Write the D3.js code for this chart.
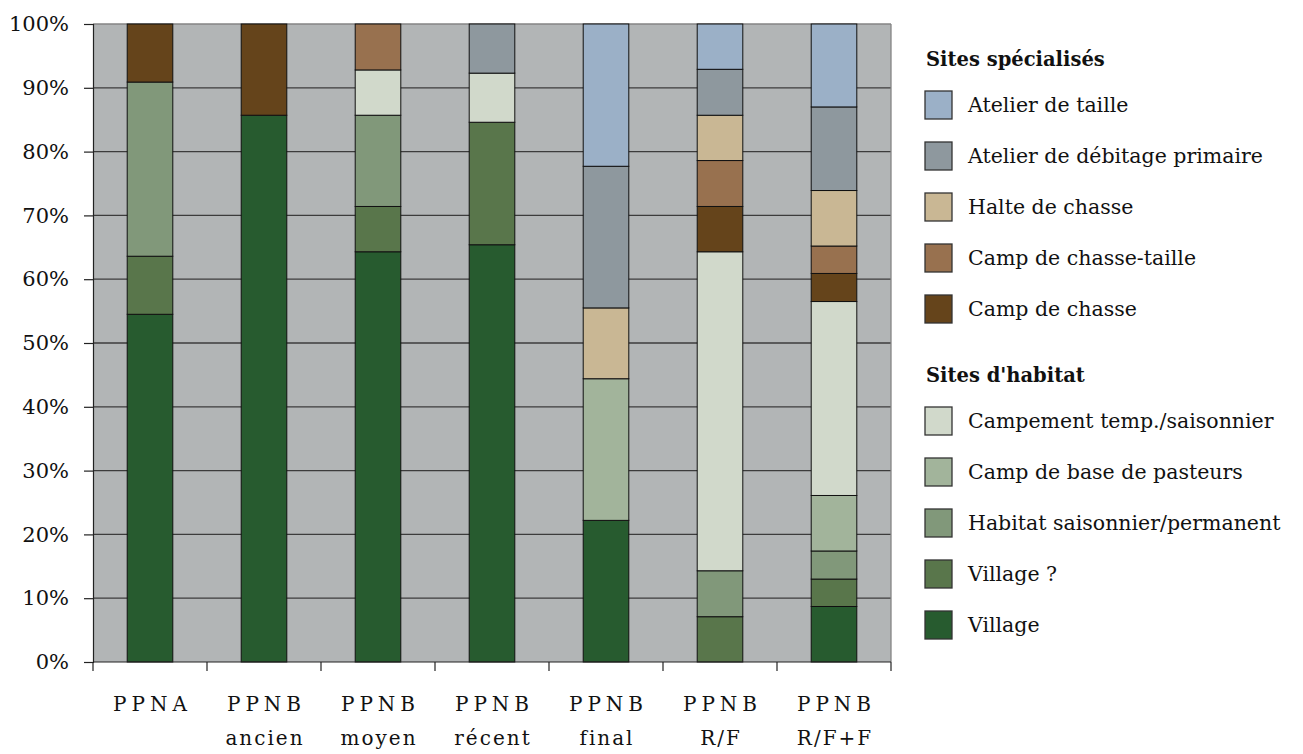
<!DOCTYPE html>
<html>
<head>
<meta charset="utf-8">
<script src="https://cdn.jsdelivr.net/npm/d3@7"></script>
<style>
  html, body { margin: 0; padding: 0; background: #ffffff; }
  svg { display: block; }
  text { font-family: "DejaVu Serif", "Liberation Serif", serif; fill: #111111; }
</style>
</head>
<body>
<svg id="chart" width="1303" height="754"></svg>
<script>
// Periods (x categories), two label lines each
const periods = ["PPNA", "PPNB ancien", "PPNB moyen", "PPNB récent", "PPNB final", "PPNB R/F", "PPNB R/F+F"];
const periodLine1 = ["PPNA", "PPNB", "PPNB", "PPNB", "PPNB", "PPNB", "PPNB"];
const periodLine2 = ["", "ancien", "moyen", "récent", "final", "R/F", "R/F+F"];

// Share of sites (%) per type, one value per period — stacked bottom to top
const village       = [54.5, 85.7, 64.3, 65.4, 22.2, 0.0, 8.7];
const villageQ      = [9.1, 0.0, 7.1, 19.2, 0.0, 7.1, 4.3];
const habitatSP     = [27.3, 0.0, 14.3, 0.0, 0.0, 7.2, 4.4];
const campBase      = [0.0, 0.0, 0.0, 0.0, 22.2, 0.0, 8.7];
const campement     = [0.0, 0.0, 7.1, 7.7, 0.0, 50.0, 30.4];
const campChasse    = [9.1, 14.3, 0.0, 0.0, 0.0, 7.1, 4.4];
const chasseTaille  = [0.0, 0.0, 7.2, 0.0, 0.0, 7.2, 4.3];
const halte         = [0.0, 0.0, 0.0, 0.0, 11.1, 7.1, 8.7];
const debitage      = [0.0, 0.0, 0.0, 7.7, 22.2, 7.2, 13.1];
const taille        = [0.0, 0.0, 0.0, 0.0, 22.3, 7.1, 13.0];

const yTicks = [0, 10, 20, 30, 40, 50, 60, 70, 80, 90, 100];

const seriesDefs = [
  { key: "Village", values: village, color: "#275b2f" },
  { key: "Village ?", values: villageQ, color: "#59764b" },
  { key: "Habitat saisonnier/permanent", values: habitatSP, color: "#81987a" },
  { key: "Camp de base de pasteurs", values: campBase, color: "#a2b49b" },
  { key: "Campement temp./saisonnier", values: campement, color: "#d1d9cb" },
  { key: "Camp de chasse", values: campChasse, color: "#65441b" },
  { key: "Camp de chasse-taille", values: chasseTaille, color: "#98714f" },
  { key: "Halte de chasse", values: halte, color: "#c9b794" },
  { key: "Atelier de débitage primaire", values: debitage, color: "#8e989e" },
  { key: "Atelier de taille", values: taille, color: "#9bb0c7" }
];

const legendGroups = [
  { title: "Sites spécialisés", keys: ["Atelier de taille", "Atelier de débitage primaire", "Halte de chasse", "Camp de chasse-taille", "Camp de chasse"] },
  { title: "Sites d'habitat", keys: ["Campement temp./saisonnier", "Camp de base de pasteurs", "Habitat saisonnier/permanent", "Village ?", "Village"] }
];

const svg = d3.select("#chart");
const margin = { left: 93, top: 24, right: 412, bottom: 92 };
const W = 1303, H = 754;
const innerW = W - margin.left - margin.right;
const innerH = H - margin.top - margin.bottom;

const rows = periods.map((p, i) => {
  const r = { period: p };
  seriesDefs.forEach(s => { r[s.key] = s.values[i]; });
  return r;
});
const stacked = d3.stack().keys(seriesDefs.map(s => s.key))(rows);
const colorOf = d3.scaleOrdinal().domain(seriesDefs.map(s => s.key)).range(seriesDefs.map(s => s.color));

const x = d3.scaleBand().domain(periods).range([0, innerW]).paddingInner(0.6).paddingOuter(0.3);
const y = d3.scaleLinear().domain([0, 100]).range([innerH, 0]);

const g = svg.append("g").attr("transform", `translate(${margin.left},${margin.top})`);

// plot background
g.append("rect").attr("x", 0).attr("y", 0).attr("width", innerW).attr("height", innerH).attr("fill", "#b2b5b6");

// horizontal gridlines
g.append("g").selectAll("line").data(yTicks.filter(t => t > 0 && t < 100)).join("line")
  .attr("x1", 0).attr("x2", innerW)
  .attr("y1", d => y(d)).attr("y2", d => y(d))
  .attr("stroke", "#3c3c3c").attr("stroke-width", 1.3);

// top and right frame
g.append("line").attr("x1", 0).attr("x2", innerW).attr("y1", y(100)).attr("y2", y(100)).attr("stroke", "#858585").attr("stroke-width", 1.3);
g.append("line").attr("x1", innerW).attr("x2", innerW).attr("y1", 0).attr("y2", innerH).attr("stroke", "#858585").attr("stroke-width", 1.3);

// stacked bars
g.append("g").selectAll("g").data(stacked).join("g")
  .attr("fill", d => colorOf(d.key))
  .selectAll("rect").data(d => d.filter(seg => seg[1] - seg[0] > 0)).join("rect")
  .attr("x", d => x(d.data.period))
  .attr("width", x.bandwidth())
  .attr("y", d => y(d[1]))
  .attr("height", d => y(d[0]) - y(d[1]))
  .attr("stroke", "#111").attr("stroke-width", 1);

// y axis
const yAxis = d3.axisLeft(y).tickValues(yTicks).tickFormat(d => d + "%").tickSize(9).tickPadding(15);
const yg = g.append("g").call(yAxis);
yg.select(".domain").attr("stroke", "#222").attr("stroke-width", 1.2);
yg.selectAll(".tick line").attr("stroke", "#222").attr("stroke-width", 1.2);
yg.selectAll(".tick text").style("font-size", "21px").attr("fill", "#111")
  .style("font-family", "'DejaVu Serif', serif");

// x axis baseline and boundary ticks
const boundaries = d3.range(periods.length + 1).map(i => i * x.step());
const xg = g.append("g").attr("transform", `translate(0,${innerH})`);
xg.append("line").attr("x1", 0).attr("x2", innerW).attr("y1", 0).attr("y2", 0).attr("stroke", "#222").attr("stroke-width", 1.2);
xg.selectAll("line.bt").data(boundaries).join("line").attr("class", "bt")
  .attr("x1", d => d).attr("x2", d => d).attr("y1", 0).attr("y2", 9)
  .attr("stroke", "#222").attr("stroke-width", 1.2);

// category labels (two lines, letter spaced)
const sp1 = 5, sp2 = 2;
const lab = xg.selectAll("text.cat").data(periods).join("text").attr("class", "cat")
  .attr("text-anchor", "middle")
  .style("font-size", "20px");
lab.append("tspan")
  .style("letter-spacing", sp1 + "px")
  .attr("x", d => x(d) + x.bandwidth() / 2 + sp1 / 2)
  .attr("y", 49)
  .text((d, i) => periodLine1[i]);
lab.append("tspan")
  .style("letter-spacing", sp2 + "px")
  .attr("x", d => x(d) + x.bandwidth() / 2 + sp2 / 2)
  .attr("y", 83)
  .text((d, i) => periodLine2[i]);

// legend
const lg = svg.append("g").attr("transform", "translate(925,0)");
const groupTop = [66, 382];
const rowStep = 51;
legendGroups.forEach((grp, gi) => {
  const top = groupTop[gi];
  lg.append("text").attr("x", 1).attr("y", top)
    .style("font-size", "19.5px").style("font-weight", "bold").text(grp.title);
  grp.keys.forEach((k, ki) => {
    const ry = top + 25 + ki * rowStep;
    lg.append("rect").attr("x", 0).attr("y", ry).attr("width", 27).attr("height", 28)
      .attr("fill", colorOf(k)).attr("stroke", "#333").attr("stroke-width", 1.3);
    lg.append("text").attr("x", 43).attr("y", ry + 21)
      .style("font-size", "20.5px").text(k);
  });
});
</script>
</body>
</html>
